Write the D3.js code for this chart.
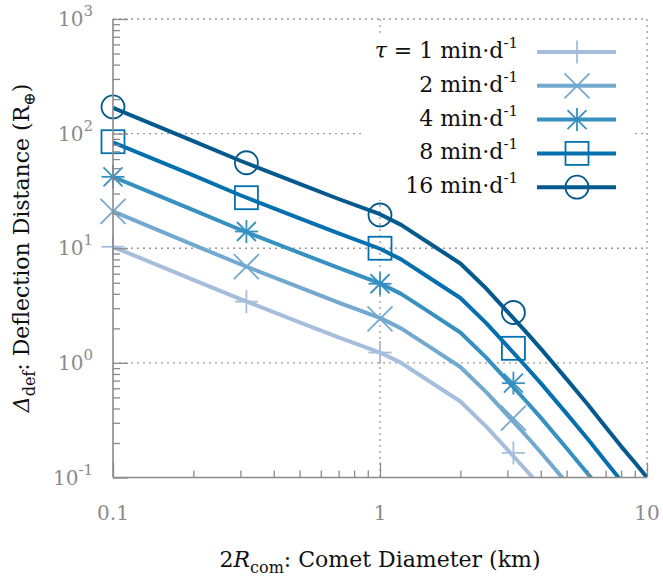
<!DOCTYPE html>
<html><head><meta charset="utf-8">
<script src="https://cdn.jsdelivr.net/npm/d3@7/dist/d3.min.js"></script>
<style>
body{margin:0;background:#fff;}
text{font-family:"DejaVu Serif",serif;}
</style></head>
<body><svg id="c" width="663" height="580"></svg>
<script>
// ---- data ----
const lineX = [0.1, 0.2, 0.3, 0.5, 0.7, 1, 1.2, 1.5, 2, 2.5, 3, 3.5, 4, 5, 6, 7, 8, 9, 10];
const tau1  = [10.3, 5.3, 3.6, 2.26, 1.67, 1.23, 1.0, 0.712, 0.46, 0.278, 0.175, 0.118, 0.0832, 0.0451, 0.0271, 0.01724, 0.01171, 0.00841, 0.00625];
const tau2  = [21, 10.7, 7.25, 4.55, 3.36, 2.47, 2.0, 1.43, 0.92, 0.556, 0.35, 0.236, 0.166, 0.090, 0.054, 0.0345, 0.0234, 0.0168, 0.0125];
const tau4  = [42, 21.5, 14.5, 9.1, 6.75, 4.94, 4.0, 2.86, 1.84, 1.11, 0.70, 0.472, 0.333, 0.180, 0.108, 0.069, 0.0468, 0.0336, 0.025];
const tau8  = [84, 43.2, 29.0, 18.2, 13.5, 9.9, 8.0, 5.7, 3.68, 2.22, 1.40, 0.944, 0.666, 0.361, 0.217, 0.138, 0.0937, 0.0673, 0.05];
const tau16 = [168, 86, 58, 36.5, 26.9, 19.8, 16.0, 11.4, 7.36, 4.45, 2.8, 1.89, 1.33, 0.722, 0.434, 0.276, 0.187, 0.135, 0.1];

const markerX = [0.1, 0.316, 1, 3.16];
const mark1  = [10.3, 3.42, 1.23, 0.164];
const mark2  = [21, 6.9, 2.42, 0.33];
const mark4  = [42, 14, 4.9, 0.665];
const mark8  = [85, 27.6, 10, 1.34];
const mark16 = [171, 55.7, 19.5, 2.75];

const tauLabels = ["1", "2", "4", "8", "16"];
const xTickLabels = ["0.1", "1", "10"];
const yTickExps = ["-1", "0", "1", "2", "3"];

const seriesColors = ["#a6bddb", "#74a9cf", "#3690c0", "#0570b0", "#045a8d"];
const markerTypes = ["plus", "cross", "star", "square", "circle"];

const series = [
  {line: tau1, marks: mark1}, {line: tau2, marks: mark2}, {line: tau4, marks: mark4},
  {line: tau8, marks: mark8}, {line: tau16, marks: mark16}
];

// ---- layout ----
const svg = d3.select("#c");
const X0 = 113, X1 = 647, Y0 = 19, Y1 = 477.5;
const x = d3.scaleLog().domain([0.1, 10]).range([X0, X1]);
const y = d3.scaleLog().domain([0.1, 1000]).range([Y1, Y0]);
const grey = "#8a8a8a";

svg.append("defs").append("clipPath").attr("id", "clip")
  .append("rect").attr("x", X0).attr("y", Y0).attr("width", X1 - X0).attr("height", Y1 - Y0);

// grid
const grid = svg.append("g").attr("stroke", "#999").attr("stroke-width", 1.3).attr("stroke-dasharray", "2,4");
[1, 10].forEach(v => grid.append("line").attr("x1", x(v)).attr("x2", x(v)).attr("y1", Y0).attr("y2", Y1));
[1, 10, 100, 1000].forEach(v => grid.append("line").attr("x1", X0).attr("x2", X1).attr("y1", y(v)).attr("y2", y(v)));

// legend background
const LX = 362, LY = 36, LW = 270, LH = 164;
svg.append("rect").attr("x", LX).attr("y", LY).attr("width", LW).attr("height", LH).attr("fill", "#fff");

// lines
const lineGen = d3.line().x(d => x(d[0])).y(d => y(d[1]));
const plot = svg.append("g").attr("clip-path", "url(#clip)");
series.forEach((s, i) => {
  plot.append("path").datum(lineX.map((v, k) => [v, s.line[k]]))
    .attr("d", lineGen).attr("fill", "none").attr("stroke", seriesColors[i])
    .attr("stroke-width", 4).attr("stroke-linejoin", "round");
});

function drawMarker(g, type, cx, cy, color) {
  const m = g.append("g").attr("transform", `translate(${cx},${cy})`)
    .attr("stroke", color).attr("fill", "none").attr("stroke-width", 1.8);
  const a = 11.5;
  if (type === "plus" || type === "star") {
    m.append("line").attr("x1", -a).attr("x2", a).attr("y1", 0).attr("y2", 0);
    m.append("line").attr("x1", 0).attr("x2", 0).attr("y1", -a).attr("y2", a);
  }
  if (type === "cross" || type === "star") {
    const c = type === "cross" ? 12.5 : 9.5;
    m.append("line").attr("x1", -c).attr("x2", c).attr("y1", -c).attr("y2", c);
    m.append("line").attr("x1", -c).attr("x2", c).attr("y1", c).attr("y2", -c);
  }
  if (type === "square") m.append("rect").attr("x", -11.5).attr("y", -11.5).attr("width", 23).attr("height", 23);
  if (type === "circle") m.append("circle").attr("r", 11.5);
}

const mg = svg.append("g");
series.forEach((s, i) => {
  markerX.forEach((v, k) => drawMarker(mg, markerTypes[i], x(v), y(s.marks[k]), seriesColors[i]));
});

// legend entries
const lg = svg.append("g");
series.forEach((s, i) => {
  const yy = 52 + i * 33.8;
  lg.append("line").attr("x1", 537).attr("x2", 616).attr("y1", yy).attr("y2", yy)
    .attr("stroke", seriesColors[i]).attr("stroke-width", 4);
  drawMarker(lg, markerTypes[i], 577, yy, seriesColors[i]);
  const t = lg.append("text").attr("x", 518).attr("y", yy + 6).attr("text-anchor", "end")
    .attr("font-size", 22).attr("fill", "#111");
  if (i === 0) {
    t.append("tspan").attr("font-style", "italic").text("τ");
    t.append("tspan").text(" = ");
  }
  t.append("tspan").text(tauLabels[i] + " min·d");
  t.append("tspan").attr("font-size", 15).attr("dy", -10).text("-1");
});

// axes
const xMinor = [];
[0.1, 1].forEach(d => { for (let k = 1; k <= 9; k++) xMinor.push(d * k); });
xMinor.push(10);
const yMinor = [];
[0.1, 1, 10, 100].forEach(d => { for (let k = 1; k <= 9; k++) yMinor.push(d * k); });
yMinor.push(1000);

const isMajor = v => Math.abs(Math.log10(v) - Math.round(Math.log10(v))) < 1e-6;

const ax = svg.append("g").attr("transform", `translate(0,${Y1})`)
  .call(d3.axisBottom(x).tickValues(xMinor).tickSize(-7).tickFormat(""));
ax.select(".domain").remove();
ax.selectAll(".tick line").attr("stroke", grey).attr("stroke-width", 1.3)
  .attr("y2", d => isMajor(d) ? -15 : -7);

const ay = svg.append("g").attr("transform", `translate(${X0},0)`)
  .call(d3.axisLeft(y).tickValues(yMinor).tickSize(-7).tickFormat(""));
ay.select(".domain").remove();
ay.selectAll(".tick line").attr("stroke", grey).attr("stroke-width", 1.3)
  .attr("x2", d => isMajor(d) ? 15 : 7);

svg.append("line").attr("x1", X0).attr("x2", X1).attr("y1", Y1).attr("y2", Y1).attr("stroke", grey).attr("stroke-width", 1.6);
svg.append("line").attr("x1", X0).attr("x2", X0).attr("y1", Y0).attr("y2", Y1).attr("stroke", grey).attr("stroke-width", 1.6);

// tick labels
xTickLabels.forEach(l => {
  svg.append("text").attr("x", x(+l)).attr("y", 520).attr("text-anchor", "middle")
    .attr("font-size", 20).attr("fill", grey).text(l);
});
yTickExps.forEach(e => {
  const t = svg.append("text").attr("x", 93).attr("y", y(Math.pow(10, +e)) + 7).attr("text-anchor", "end")
    .attr("font-size", 20).attr("fill", grey);
  t.append("tspan").text("10");
  t.append("tspan").attr("font-size", 15).attr("dy", -10).text(e);
});

// axis titles
const xt = svg.append("text").attr("x", 380).attr("y", 567).attr("text-anchor", "middle")
  .attr("font-size", 22).attr("fill", "#111");
xt.append("tspan").text("2");
xt.append("tspan").attr("font-style", "italic").text("R");
xt.append("tspan").attr("font-size", 16).attr("dy", 6).text("com");
xt.append("tspan").attr("dy", -6).text(": Comet Diameter (km)");

const yt = svg.append("text").attr("transform", `translate(29,248) rotate(-90)`).attr("text-anchor", "middle")
  .attr("font-size", 22).attr("fill", "#111");
yt.append("tspan").attr("font-style", "italic").text("Δ");
yt.append("tspan").attr("font-size", 16).attr("dy", 6).text("def");
yt.append("tspan").attr("dy", -6).text(": Deflection Distance (R");
yt.append("tspan").attr("font-size", 16).attr("dy", 6).text("⊕");
yt.append("tspan").attr("dy", -6).text(")");
</script></body></html>
